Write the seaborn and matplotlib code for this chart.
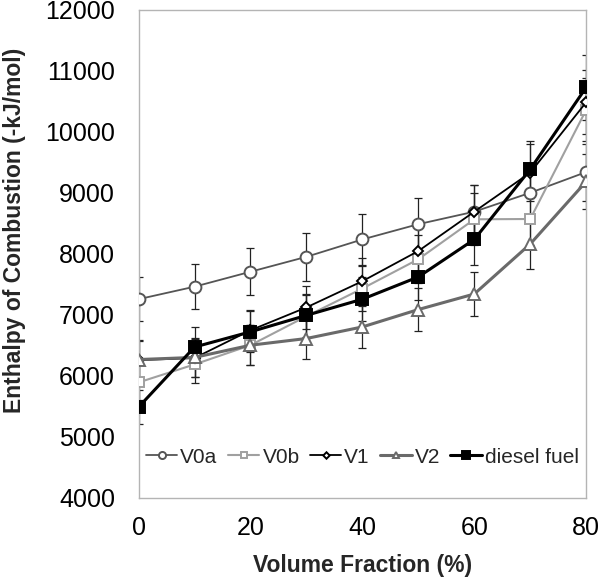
import pandas as pd
import matplotlib
matplotlib.use("Agg")
import matplotlib.pyplot as plt
import seaborn as sns

# values
fraction = [0, 10, 20, 30, 40, 50, 60, 70, 80]

v0a = [7255, 7460, 7705, 7950, 8235, 8485, 8690, 9000, 9340]
v0b = [5890, 6185, 6500, 6975, 7430, 7910, 8565, 8570, 10360]
v1 = [6255, 6290, 6745, 7120, 7550, 8045, 8690, 9330, 10485]
v2 = [6265, 6300, 6500, 6610, 6800, 7085, 7340, 8160, 9185]
diesel = [5485, 6470, 6720, 6990, 7255, 7620, 8235, 9385, 10730]

v0a_err = [363, 373, 385, 398, 412, 424, 435, 450, 467]
v0b_err = [295, 309, 325, 349, 372, 396, 428, 429, 518]
v1_err = [313, 315, 337, 356, 378, 402, 435, 467, 524]
v2_err = [313, 315, 325, 331, 340, 354, 367, 408, 459]
diesel_err = [274, 324, 336, 350, 363, 381, 412, 469, 537]

names = ["V0a", "V0b", "V1", "V2", "diesel fuel"]
series = [v0a, v0b, v1, v2, diesel]
errors = [v0a_err, v0b_err, v1_err, v2_err, diesel_err]

sns.set_style("white")
plt.rcParams["font.family"] = ["Liberation Sans", "DejaVu Sans"]

rows = []
for name, vals in zip(names, series):
    for x, y in zip(fraction, vals):
        rows.append({"fraction": x, "value": y, "fuel": name})
df = pd.DataFrame(rows)

# stil: renk, çizgi kalınlığı, işaret
styles = {
    "V0a": dict(color="#555555", lw=1.3, marker="o", ms=8.5, mfc="white"),
    "V0b": dict(color="#a0a0a0", lw=1.5, marker="s", ms=7.5, mfc="white"),
    "V1": dict(color="#000000", lw=1.3, marker="D", ms=5.5, mfc="white"),
    "V2": dict(color="#6a6a6a", lw=2.2, marker="^", ms=8, mfc="white"),
    "diesel fuel": dict(color="#000000", lw=2.2, marker="s", ms=8.5, mfc="#000000"),
}

fig, ax = plt.subplots(figsize=(6, 5.8), dpi=100)
fig.subplots_adjust(left=0.231, right=0.977, top=0.983, bottom=0.142)

for name, err in zip(names, errors):
    d = df[df["fuel"] == name]
    ax.errorbar(d["fraction"], d["value"], yerr=err, fmt="none",
                ecolor="#222222", elinewidth=0.9, capsize=3, capthick=0.9, zorder=1)

for name in names:
    st = styles[name]
    sns.lineplot(data=df[df["fuel"] == name], x="fraction", y="value", ax=ax,
                 color=st["color"], linewidth=st["lw"], marker=st["marker"],
                 markersize=st["ms"], markerfacecolor=st["mfc"],
                 markeredgecolor=st["color"], markeredgewidth=1.4,
                 label=name, zorder=3)

ax.set_xlim(0, 80)
ax.set_ylim(4000, 12000)
ax.set_xticks([0, 20, 40, 60, 80])
ax.set_yticks(range(4000, 12001, 1000))
ax.tick_params(axis="x", length=0, labelsize=18, pad=13, colors="black")
ax.tick_params(axis="y", length=0, labelsize=18, pad=17, colors="black")
for sp in ax.spines.values():
    sp.set_color("#b4b4b4")
    sp.set_linewidth(1.0)

ax.set_xlabel("Volume Fraction (%)", fontsize=16.5, fontweight="bold")
ax.set_ylabel("Enthalpy of Combustion (-kJ/mol)", fontsize=16.5, fontweight="bold")
ax.xaxis.set_label_coords(0.5, -0.115)
ax.yaxis.set_label_coords(-0.252, 0.547)

leg = ax.legend(loc="center", bbox_to_anchor=(0.5, 0.083), ncol=5, frameon=False,
                fontsize=15, handlelength=1.5, handletextpad=0.15, columnspacing=0.5,
                markerscale=0.6)

plt.savefig("out.png", dpi=100)
